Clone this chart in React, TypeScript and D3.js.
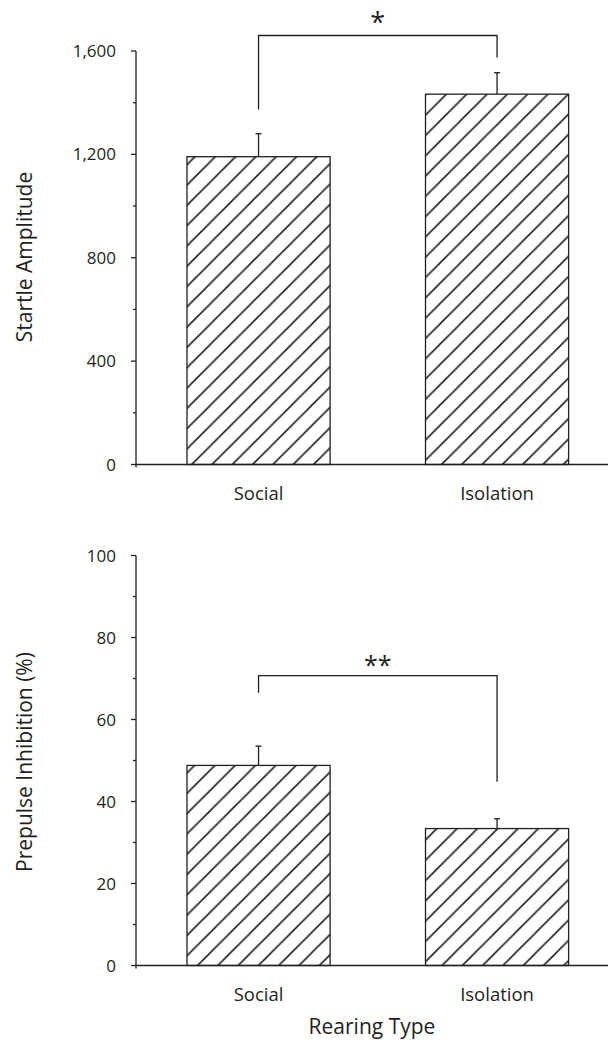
import React from "react";
import * as d3 from "d3";

const categories = ["Social", "Isolation"];
const startleMeans = [1191, 1433];
const startleErrors = [89, 83];
const startleTicks = [0, 400, 800, 1200, 1600];
const startleMinor = [200, 600, 1000, 1400];
const startleBracket = { top: 1660, left: 1374, right: 1575, label: "*" };

const ppiMeans = [48.8, 33.4];
const ppiErrors = [4.7, 2.4];
const ppiTicks = [0, 20, 40, 60, 80, 100];
const ppiMinor = [10, 30, 50, 70, 90];
const ppiBracket = { top: 70.7, left: 66.5, right: 44.8, label: "**" };

const INK = "#231f20";
const FONT = "'Open Sans', 'Noto Sans', sans-serif";

type PanelProps = {
  id: string;
  means: number[];
  errors: number[];
  ticks: number[];
  minor: number[];
  bracket: { top: number; left: number; right: number; label: string };
  yTop: number;
  yBottom: number;
  yLabel: string;
  yLabelCenter: number;
  tickFmt: (v: number) => string;
  phases: number[];
  starY: number;
  starSize: number;
};

function Panel(p: PanelProps) {
  const axisX = 136;
  const dom = d3.extent(p.ticks) as [number, number];
  const y = d3.scaleLinear().domain(dom).range([p.yBottom, p.yTop]);
  const x = d3
    .scaleBand<string>()
    .domain(categories)
    .range([136, 619.6])
    .paddingInner(0.4)
    .paddingOuter(0.2138);
  const bw = x.bandwidth();
  const cx = (c: string) => (x(c) as number) + bw / 2;
  const hatch = 20.3;
  const b = p.bracket;
  const xl = cx(categories[0]);
  const xr = cx(categories[1]);
  const hw = 1.6;
  return (
    <g>
      <defs>
        {categories.map((c, i) => (
          <pattern
            key={c}
            id={`${p.id}-h${i}`}
            patternUnits="userSpaceOnUse"
            width={hatch}
            height={hatch}
            patternTransform={`translate(${p.phases[i]},0)`}
          >
            <line x1={-2} y1={hatch + 2} x2={hatch + 2} y2={-2} stroke={INK} strokeWidth={hw} />
            <line x1={-2 - hatch} y1={hatch + 2} x2={2} y2={-2} stroke={INK} strokeWidth={hw} />
            <line x1={hatch - 2} y1={hatch + 2} x2={2 * hatch + 2} y2={-2} stroke={INK} strokeWidth={hw} />
          </pattern>
        ))}
      </defs>
      {categories.map((c, i) => {
        const x0 = x(c) as number;
        const top = y(p.means[i]);
        const errTop = y(p.means[i] + p.errors[i]);
        return (
          <g key={c}>
            <line x1={cx(c)} x2={cx(c)} y1={top} y2={errTop} stroke={INK} strokeWidth={1.3} />
            <line x1={cx(c) - 3} x2={cx(c) + 3} y1={errTop} y2={errTop} stroke={INK} strokeWidth={1.3} />
            <rect
              x={x0}
              y={top}
              width={bw}
              height={p.yBottom - top}
              fill={`url(#${p.id}-h${i})`}
              stroke={INK}
              strokeWidth={1.3}
            />
          </g>
        );
      })}
      <line x1={axisX} x2={axisX} y1={y(dom[1])} y2={p.yBottom + 3} stroke={INK} strokeWidth={1.3} />
      <line x1={axisX} x2={608} y1={p.yBottom} y2={p.yBottom} stroke={INK} strokeWidth={1.3} />
      {p.ticks.map((t) => (
        <g key={t}>
          <line x1={axisX - 5} x2={axisX} y1={y(t)} y2={y(t)} stroke={INK} strokeWidth={1.3} />
          <text
            x={116}
            y={y(t)}
            dy="0.36em"
            textAnchor="end"
            fontFamily={FONT}
            fontSize={17}
            fill={INK}
          >
            {p.tickFmt(t)}
          </text>
        </g>
      ))}
      {p.minor.map((t) => (
        <line key={t} x1={axisX - 3} x2={axisX} y1={y(t)} y2={y(t)} stroke={INK} strokeWidth={1.3} />
      ))}
      {categories.map((c) => (
        <text
          key={c}
          x={cx(c)}
          y={p.yBottom + 35}
          textAnchor="middle"
          fontFamily={FONT}
          fontSize={18.5}
          fill={INK}
        >
          {c}
        </text>
      ))}
      <text
        transform={`translate(32,${p.yLabelCenter}) rotate(-90)`}
        textAnchor="middle"
        fontFamily={FONT}
        fontSize={21}
        fill={INK}
      >
        {p.yLabel}
      </text>
      <path
        d={`M${xl},${y(b.left)}V${y(b.top)}H${xr}V${y(b.right)}`}
        fill="none"
        stroke={INK}
        strokeWidth={1.3}
      />
      <text
        x={(xl + xr) / 2}
        y={p.starY}
        textAnchor="middle"
        fontFamily={FONT}
        fontSize={p.starSize}
        fill={INK}
      >
        {b.label}
      </text>
    </g>
  );
}

export default function App() {
  return (
    <svg
      width={608}
      height={1044}
      style={{ position: "absolute", left: 0, top: 0, background: "#fff" }}
    >
      <Panel
        id="a"
        means={startleMeans}
        errors={startleErrors}
        ticks={startleTicks}
        minor={startleMinor}
        bracket={startleBracket}
        yTop={51}
        yBottom={464.5}
        yLabel="Startle Amplitude"
        yLabelCenter={257}
        tickFmt={d3.format(",")}
        phases={[6.6, 12.8]}
        starY={32}
        starSize={27}
      />
      <Panel
        id="b"
        means={ppiMeans}
        errors={ppiErrors}
        ticks={ppiTicks}
        minor={ppiMinor}
        bracket={ppiBracket}
        yTop={555.5}
        yBottom={965.5}
        yLabel="Prepulse Inhibition (%)"
        yLabelCenter={762}
        tickFmt={d3.format("d")}
        phases={[5.9, 6.8]}
        starY={674}
        starSize={25}
      />
      <text
        x={372}
        y={1034}
        textAnchor="middle"
        fontFamily={FONT}
        fontSize={21}
        fill={INK}
      >
        Rearing Type
      </text>
    </svg>
  );
}
